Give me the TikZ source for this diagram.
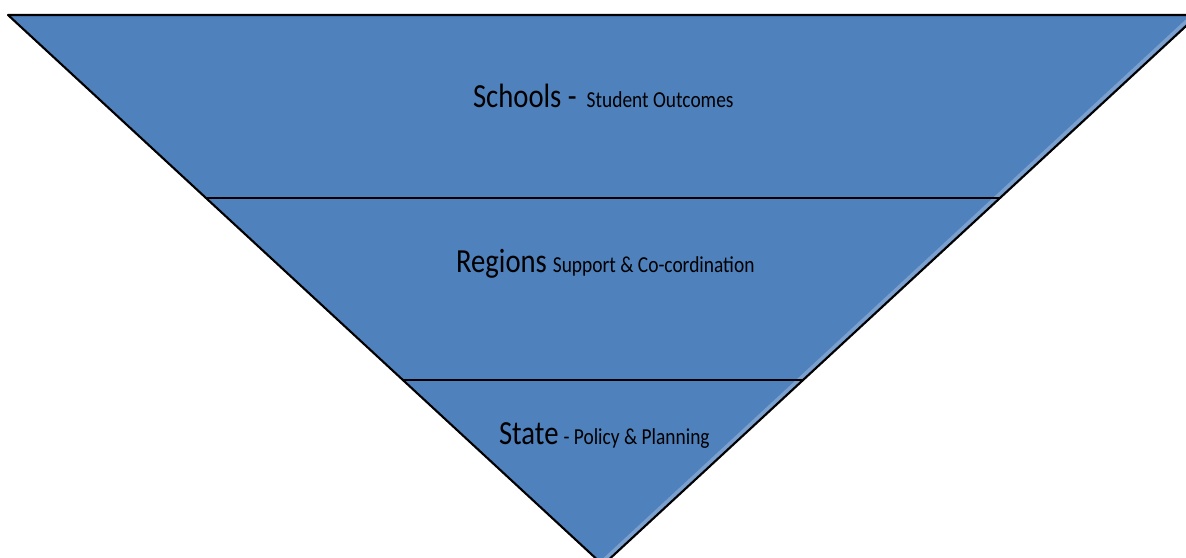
\documentclass[tikz,border=0pt]{standalone}
\usepackage{fontspec}
\setmainfont{Carlito}
\newfontfamily\narrowfont[FakeStretch=0.85]{Carlito}
\definecolor{bandblue}{RGB}{79,129,189}
\begin{document}
\begin{tikzpicture}[line cap=round, line join=round, line width=0.6pt]
	\tikzset{label style/.style={anchor=base west, inner sep=0pt}}
	\newcommand{\bigtxt}{\narrowfont\fontsize{9.6pt}{10pt}\selectfont}
	\newcommand{\smalltxt}{\narrowfont\fontsize{6.5pt}{7pt}\selectfont}
	\useasboundingbox (0,0) rectangle (11.86,5.58);
	\clip (0,0) rectangle (11.86,5.58);
	\fill[bandblue] (0.08,5.43)--(11.98,5.43)--(6.03,-0.07)--cycle;
	% light rim along the right side
	\draw[bandblue!75!white, line width=1pt] (11.90,5.40)--(6.04,-0.02);
	\draw (0.08,5.43)--(11.98,5.43)--(6.03,-0.07)--cycle;
	\draw (2.06,3.60)--(10.00,3.60)
	(4.03,1.78)--(8.03,1.78);
	\node[label style] (schools) at (4.72,4.50) {\bigtxt Schools -\hspace{0.1cm}\smalltxt Student Outcomes};
	\node[label style] (regions) at (4.55,2.85) {\bigtxt Regions\hspace{0.06cm}\smalltxt Support \& Co-cordination};
	\node[label style] (state) at (4.98,1.13) {\bigtxt State\hspace{0.05cm}\smalltxt - Policy \& Planning};
\end{tikzpicture}
\end{document}
